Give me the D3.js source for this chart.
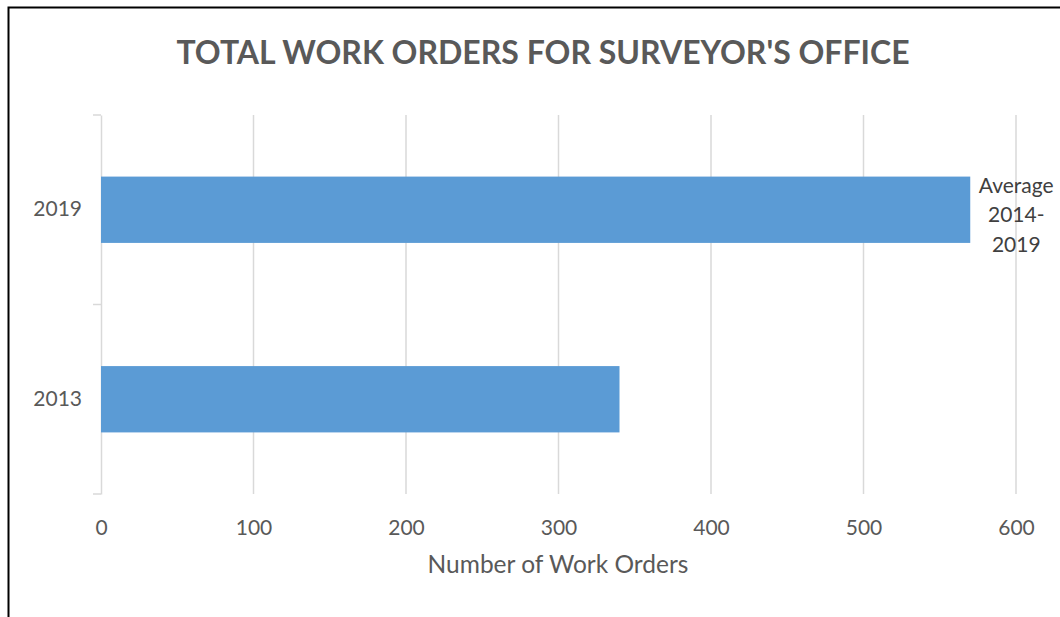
<!DOCTYPE html>
<html>
<head>
<meta charset="utf-8">
<script src="https://cdn.jsdelivr.net/npm/d3@7"></script>
<style>
  body { margin: 0; background: #fff; }
  svg { display: block; font-family: Lato, "Open Sans", sans-serif; }
</style>
</head>
<body>
<svg width="1060" height="617"></svg>
<script>
// data
const categories = ["2019", "2013"];
const values = [570, 340];
const xTicks = [0, 100, 200, 300, 400, 500, 600];
const barLabel = ["Average", "2014-", "2019"];

const svg = d3.select("svg");
const margin = { left: 101, top: 115, bottom: 494 };

// chart border (top + left)
svg.append("path")
  .attr("d", "M8.5,617 L8.5,7.5 L1060,7.5")
  .attr("fill", "none")
  .attr("stroke", "#000")
  .attr("stroke-width", 2);

// title
svg.append("text")
  .attr("x", 543)
  .attr("y", 64)
  .attr("text-anchor", "middle")
  .attr("font-size", 32)
  .attr("font-weight", "bold")
  .attr("fill", "#595959")
  .text("TOTAL WORK ORDERS FOR SURVEYOR'S OFFICE");

const x = d3.scaleLinear().domain([0, 600]).range([margin.left, 1016]);
const y = d3.scaleBand().domain(categories).range([margin.top, margin.bottom]).paddingInner(0.65).paddingOuter(0.325);

// gridlines
svg.append("g").selectAll("line")
  .data(xTicks.slice(1))
  .join("line")
  .attr("x1", d => x(d)).attr("x2", d => x(d))
  .attr("y1", margin.top).attr("y2", margin.bottom)
  .attr("stroke", "#d9d9d9")
  .attr("stroke-width", 1.5);

// x axis labels
const xAxis = svg.append("g")
  .attr("transform", `translate(0,${margin.bottom})`)
  .call(d3.axisBottom(x).tickValues(xTicks).tickSize(0).tickPadding(26));
xAxis.select(".domain").remove();
xAxis.selectAll("text").attr("font-size", 21).attr("fill", "#595959").attr("font-family", "Lato, sans-serif");

// y axis
const yAxis = svg.append("g")
  .attr("transform", `translate(${margin.left},0)`)
  .call(d3.axisLeft(y).tickSize(0).tickPadding(19));
yAxis.select(".domain").attr("stroke", "#d9d9d9").attr("stroke-width", 1.5);
yAxis.selectAll("text").attr("font-size", 21).attr("fill", "#595959").attr("font-family", "Lato, sans-serif");

// category separator ticks
const bounds = [margin.top, (margin.top + margin.bottom) / 2, margin.bottom];
svg.append("g").selectAll("line")
  .data(bounds)
  .join("line")
  .attr("x1", margin.left - 8).attr("x2", margin.left)
  .attr("y1", d => d).attr("y2", d => d)
  .attr("stroke", "#d9d9d9")
  .attr("stroke-width", 1.5);

// bars
svg.append("g").selectAll("rect")
  .data(categories)
  .join("rect")
  .attr("x", x(0))
  .attr("y", d => y(d))
  .attr("width", (d, i) => x(values[i]) - x(0))
  .attr("height", y.bandwidth())
  .attr("fill", "#5b9bd5");

// label on 2019 bar
const lbl = svg.append("text")
  .attr("x", x(values[0]) + 46)
  .attr("y", y("2019") + 16)
  .attr("text-anchor", "middle")
  .attr("font-size", 21)
  .attr("fill", "#404040");
lbl.selectAll("tspan")
  .data(barLabel)
  .join("tspan")
  .attr("x", x(values[0]) + 46)
  .attr("dy", (d, i) => i === 0 ? 0 : 29.5)
  .text(d => d);

// axis title
svg.append("text")
  .attr("x", 558)
  .attr("y", 573)
  .attr("text-anchor", "middle")
  .attr("font-size", 24.5)
  .attr("fill", "#595959")
  .text("Number of Work Orders");
</script>
</body>
</html>
